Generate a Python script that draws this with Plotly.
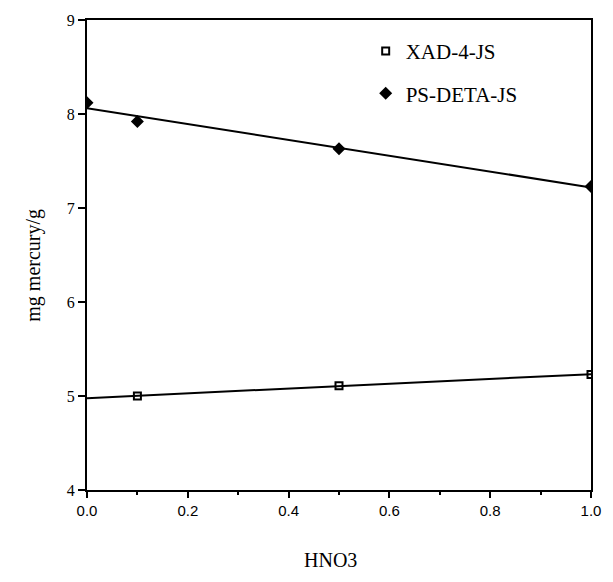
import numpy as np
import plotly.graph_objects as go

# Data
hno3_xad = [0.1, 0.5, 1.0]
hg_xad = [5.00, 5.11, 5.23]
hno3_ps = [0.0, 0.1, 0.5, 1.0]
hg_ps = [8.12, 7.92, 7.63, 7.23]
x_ticks = [0.0, 0.2, 0.4, 0.6, 0.8, 1.0]
x_tick_labels = ["0.0", "0.2", "0.4", "0.6", "0.8", "1.0"]
y_ticks = [4, 5, 6, 7, 8, 9]

fit_x = np.array([0.0, 1.0])
p_xad = np.polyfit(hno3_xad, hg_xad, 1)
p_ps = np.polyfit(hno3_ps, hg_ps, 1)

fig = go.Figure()
fig.add_trace(go.Scatter(x=fit_x, y=np.polyval(p_xad, fit_x), mode="lines",
                         line=dict(color="black", width=2), showlegend=False,
                         hoverinfo="skip"))
fig.add_trace(go.Scatter(x=fit_x, y=np.polyval(p_ps, fit_x), mode="lines",
                         line=dict(color="black", width=2), showlegend=False,
                         hoverinfo="skip"))
fig.add_trace(go.Scatter(x=hno3_xad, y=hg_xad, mode="markers", name="XAD-4-JS",
                         legendgroup="a",
                         marker=dict(symbol="square-open", size=7, color="black",
                                     line=dict(width=2, color="black"))))
fig.add_trace(go.Scatter(x=hno3_ps, y=hg_ps, mode="markers", name="PS-DETA-JS",
                         legendgroup="b",
                         marker=dict(symbol="diamond", size=10, color="black")))

L, R, T, B = 87, 16, 15, 92
W, H = 613, 582
plot_w = W - L - R
plot_h = H - T - B

fig.update_layout(
    width=W, height=H,
    margin=dict(l=L, r=R, t=T, b=B),
    paper_bgcolor="white", plot_bgcolor="white",
    showlegend=True,
    legend=dict(x=(369 - L) / plot_w, y=(H - B - 26) / plot_h,
                xanchor="left", yanchor="top",
                bgcolor="rgba(0,0,0,0)", traceorder="grouped",
                tracegroupgap=12,
                font=dict(family="Liberation Serif", size=21, color="black")),
    xaxis=dict(range=[0, 1], tickvals=x_ticks, ticktext=x_tick_labels,
               ticks="outside", ticklen=6, tickwidth=2, tickcolor="black",
               showline=True, linecolor="black", linewidth=2, mirror=True,
               showgrid=False, zeroline=False,
               minor=dict(tickvals=[0.1, 0.3, 0.5, 0.7, 0.9], ticks="outside",
                          ticklen=3, tickwidth=2, tickcolor="black"),
               tickfont=dict(family="Liberation Sans", size=15, color="black")),
    yaxis=dict(range=[4, 9], tickvals=y_ticks,
               ticks="outside", ticklen=7, tickwidth=2, tickcolor="black",
               showline=True, linecolor="black", linewidth=2, mirror=True,
               showgrid=False, zeroline=False,
               tickfont=dict(family="Liberation Serif", size=16, color="black")),
    annotations=[
        dict(text="HNO3", x=(333 - L) / plot_w, y=(H - B - 574) / plot_h,
             xref="paper", yref="paper", showarrow=False,
             font=dict(family="Liberation Serif", size=20, color="black")),
        dict(text="mg mercury/g", x=(19 - L) / plot_w, y=(H - B - 263) / plot_h,
             xref="paper", yref="paper", showarrow=False, textangle=-90,
             font=dict(family="Liberation Serif", size=20, color="black")),
    ],
)

fig.write_html("out.html")
